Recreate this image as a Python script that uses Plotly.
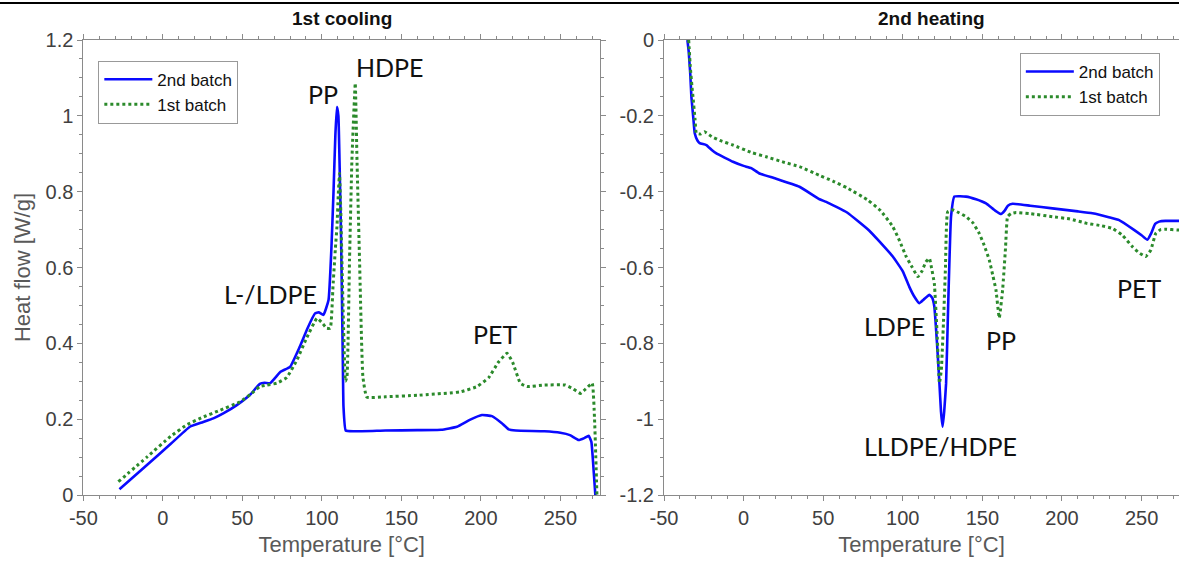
import plotly.graph_objects as go

# ---------------- data ----------------
# 1st cooling, 2nd batch (blue)
cool_b2_T = [-27.3, -10, 5, 17, 25, 31.8, 38, 46.5, 55, 61, 64, 67.5, 74, 80, 86, 91, 95.7, 98, 101,
             104.2, 106, 107.3, 108.5, 109.5, 110.4, 111.1, 112, 112.6, 113.2, 113.6, 115, 120, 140,
             160, 175, 185, 193, 200.7, 207, 213, 217.5, 222, 240, 250, 256, 261.5, 265, 267.8,
             269.5, 271, 272]
cool_b2_V = [0.015, 0.079, 0.135, 0.18, 0.192, 0.202, 0.215, 0.237, 0.265, 0.293, 0.296, 0.295, 0.325,
             0.338, 0.39, 0.44, 0.479, 0.482, 0.475, 0.514, 0.65, 0.796, 0.95, 1.024, 1.0, 0.883, 0.7,
             0.532, 0.35, 0.233, 0.17, 0.168, 0.17, 0.171, 0.172, 0.18, 0.198, 0.211, 0.208, 0.19,
             0.173, 0.17, 0.168, 0.164, 0.158, 0.145, 0.15, 0.156, 0.14, 0.06, 0.0]

# 1st cooling, 1st batch (green)
cool_b1_T = [-28, -10, 5, 15, 25, 35, 48.6, 55, 61, 65.4, 71.7, 78, 84.3, 90, 96.9, 100, 103, 105.3,
             107, 108.5, 109.5, 110.3, 111.1, 111.9, 112.6, 113.6, 114.8, 115.8, 117.4, 118.9, 121,
             122.1, 123.7, 125.8, 128.3, 140, 160, 187, 197.6, 205, 211, 216.5, 220, 224.8, 229, 240,
             253, 258, 262.6, 266, 270, 271.5, 273]
cool_b1_V = [0.035, 0.1, 0.155, 0.185, 0.205, 0.222, 0.246, 0.265, 0.286, 0.29, 0.295, 0.31, 0.356, 0.41,
             0.466, 0.455, 0.44, 0.44, 0.55, 0.65, 0.708, 0.79, 0.848, 0.75, 0.62, 0.45, 0.3, 0.312,
             0.62, 0.883, 1.086, 0.883, 0.62, 0.312, 0.258, 0.259, 0.263, 0.272, 0.286, 0.31, 0.35,
             0.374, 0.35, 0.295, 0.286, 0.29, 0.29, 0.28, 0.268, 0.28, 0.295, 0.2, 0.0]

# 2nd heating, 2nd batch (blue)
heat_b2_T = [-35.3, -34.5, -33.5, -32.8, -31.5, -30.7, -29, -27.6, -23.4, -20, -17.1, -12, -6.7, 0,
             4.8, 10, 20, 35.1, 47.7, 51.9, 65, 79, 85, 93.7, 100, 104.1, 107, 110.4, 113, 116.7,
             118.5, 119.8, 121.5, 123, 124, 125, 126, 127.2, 128.5, 130.3, 132.4, 139.7, 146, 152.3,
             158, 161.7, 164, 166, 169, 180, 194, 210, 219.1, 230, 235.9, 245, 250, 253.6, 256,
             258.5, 261, 265, 272.5, 275]
heat_b2_V = [0.0, -0.03, -0.09, -0.15, -0.21, -0.246, -0.265, -0.272, -0.277, -0.29, -0.299, -0.31,
             -0.321, -0.332, -0.338, -0.352, -0.365, -0.387, -0.42, -0.427, -0.455, -0.503, -0.53,
             -0.571, -0.61, -0.651, -0.675, -0.694, -0.685, -0.672, -0.68, -0.703, -0.8, -0.905,
             -0.98, -1.02, -0.98, -0.905, -0.7, -0.466, -0.413, -0.413, -0.42, -0.431, -0.45, -0.459,
             -0.45, -0.437, -0.432, -0.437, -0.444, -0.452, -0.457, -0.468, -0.475, -0.5, -0.515,
             -0.527, -0.51, -0.485, -0.479, -0.477, -0.477, -0.477]

# 2nd heating, 1st batch (green)
heat_b1_T = [-34.5, -33.5, -32.5, -31.8, -30.5, -29.7, -27, -24.5, -20, -15, -6.7, 5, 14.2, 25, 35.1,
             47.7, 56, 65, 78, 86, 93.7, 98, 102.1, 106, 109.4, 112, 114.5, 116.7, 118, 119.8, 121.5,
             123, 124.2, 125.5, 126.8, 128.2, 131.3, 135, 139.7, 144, 148, 151, 154.3, 156.5, 158.5,
             160.6, 162.7, 164.5, 165.8, 168, 171.1, 180, 194, 205, 215, 225, 231.7, 238, 244.2, 248,
             252.6, 255.8, 258.9, 262, 265.2, 272.4, 275]
heat_b1_V = [0.0, -0.07, -0.12, -0.15, -0.21, -0.246, -0.248, -0.242, -0.255, -0.265, -0.277, -0.297,
             -0.308, -0.322, -0.334, -0.357, -0.372, -0.39, -0.422, -0.45, -0.492, -0.53, -0.571,
             -0.6, -0.624, -0.61, -0.585, -0.576, -0.6, -0.642, -0.77, -0.905, -0.87, -0.75, -0.6,
             -0.453, -0.448, -0.455, -0.466, -0.482, -0.51, -0.54, -0.58, -0.62, -0.659, -0.733,
             -0.659, -0.55, -0.466, -0.458, -0.455, -0.458, -0.466, -0.472, -0.483, -0.49, -0.497,
             -0.515, -0.545, -0.56, -0.571, -0.554, -0.51, -0.5, -0.499, -0.501, -0.501]

series_names = ["2nd batch", "1st batch"]
panel_titles = ["1st cooling", "2nd heating"]
x_title = "Temperature [°C]"
y_title = "Heat flow [W/g]"

x_tick_vals = [-50, 0, 50, 100, 150, 200, 250]
x_tick_text = ["-50", "0", "50", "100", "150", "200", "250"]
y1_tick_vals = [0, 0.2, 0.4, 0.6, 0.8, 1.0, 1.2]
y1_tick_text = ["0", "0.2", "0.4", "0.6", "0.8", "1", "1.2"]
y2_tick_vals = [0, -0.2, -0.4, -0.6, -0.8, -1.0, -1.2]
y2_tick_text = ["0", "-0.2", "-0.4", "-0.6", "-0.8", "-1", "-1.2"]

cool_labels = ["HDPE", "PP", "L-/LDPE", "PET"]
cool_label_T = [143, 100.7, 67.5, 209]
cool_label_V = [1.129, 1.057, 0.53, 0.425]
heat_labels = ["LDPE", "PP", "LLDPE/HDPE", "PET"]
heat_label_T = [94.7, 161.9, 123.6, 248.4]
heat_label_V = [-0.754, -0.791, -1.071, -0.654]

# ---------------- styling ----------------
BLUE = "#0a0aff"
GREEN = "#2b8a2b"
AX = "#8a8a8a"
TICKFONT = dict(family="Liberation Sans, Arial", size=20, color="#404040")
TITLEFONT = dict(family="Liberation Sans, Arial", size=22, color="#595959")
ANNFONT = dict(family="Lato, Open Sans, sans-serif", size=25, color="#111111")
LINE_SHAPE = "spline"
SMOOTH = 0.35

fig = go.Figure()

fig.add_trace(go.Scatter(x=cool_b2_T, y=cool_b2_V, mode="lines", name=series_names[0],
                         line=dict(color=BLUE, width=2.6, shape=LINE_SHAPE, smoothing=SMOOTH),
                         xaxis="x", yaxis="y", legend="legend"))
fig.add_trace(go.Scatter(x=cool_b1_T, y=cool_b1_V, mode="lines", name=series_names[1],
                         line=dict(color=GREEN, width=3, dash="dot", shape=LINE_SHAPE, smoothing=SMOOTH),
                         xaxis="x", yaxis="y", legend="legend"))
fig.add_trace(go.Scatter(x=heat_b2_T, y=heat_b2_V, mode="lines", name=series_names[0],
                         line=dict(color=BLUE, width=2.6, shape=LINE_SHAPE, smoothing=SMOOTH),
                         xaxis="x2", yaxis="y2", legend="legend2"))
fig.add_trace(go.Scatter(x=heat_b1_T, y=heat_b1_V, mode="lines", name=series_names[1],
                         line=dict(color=GREEN, width=3, dash="dot", shape=LINE_SHAPE, smoothing=SMOOTH),
                         xaxis="x2", yaxis="y2", legend="legend2"))

def xaxis_cfg(domain, anchor, rng):
    return dict(domain=domain, anchor=anchor, range=rng, tickmode="array", tickvals=x_tick_vals,
                ticktext=x_tick_text, showline=True, linecolor=AX, linewidth=1, mirror="ticks",
                ticks="outside", ticklen=5, tickcolor=AX, showgrid=False, zeroline=False,
                automargin=False,
                tickfont=TICKFONT, title=dict(text=x_title, font=TITLEFONT, standoff=8),
                minor=dict(dtick=10, tick0=0, ticks="outside", ticklen=3, tickcolor=AX, showgrid=False))

def yaxis_cfg(anchor, rng, vals, text, title=None):
    d = dict(anchor=anchor, range=rng, tickmode="array", tickvals=vals, ticktext=text,
             showline=True, linecolor=AX, linewidth=1, mirror="ticks", ticks="outside", ticklen=5,
             tickcolor=AX, showgrid=False, zeroline=False, tickfont=TICKFONT, domain=[0, 1],
             automargin=False,
             minor=dict(dtick=0.05, tick0=0, ticks="outside", ticklen=3, tickcolor=AX, showgrid=False))
    if title:
        d["title"] = dict(text=title, font=TITLEFONT, standoff=8)
    return d

annotations = []
for i, t in enumerate(panel_titles):
    annotations.append(dict(text="<b>%s</b>" % t, xref="x%s domain" % ("" if i == 0 else "2"),
                            yref="paper", x=0.5 if i == 0 else 0.52, y=1.0, yshift=9, xanchor="center",
                            yanchor="bottom", showarrow=False,
                            font=dict(family="Liberation Sans, Arial", size=19, color="#111111")))
for lab, tx, vy in zip(cool_labels, cool_label_T, cool_label_V):
    annotations.append(dict(text=lab, x=tx, y=vy, xref="x", yref="y", showarrow=False, font=ANNFONT))
for lab, tx, vy in zip(heat_labels, heat_label_T, heat_label_V):
    annotations.append(dict(text=lab, x=tx, y=vy, xref="x2", yref="y2", showarrow=False, font=ANNFONT))

LEGFONT = dict(family="Liberation Sans, Arial", size=17, color="#111111")
fig.update_layout(
    width=1179, height=563,
    margin=dict(l=0, r=0, t=40, b=68, autoexpand=False),
    paper_bgcolor="white", plot_bgcolor="white",
    xaxis=xaxis_cfg([0.0707, 0.509], "y", [-50, 275]),
    yaxis=yaxis_cfg("x", [0, 1.2], y1_tick_vals, y1_tick_text, y_title),
    xaxis2=xaxis_cfg([0.5632, 1.0], "y2", [-50, 273.5]),
    yaxis2=yaxis_cfg("x2", [-1.2, 0], y2_tick_vals, y2_tick_text),
    legend=dict(x=0.0834, y=0.9545, xanchor="left", yanchor="top", bgcolor="white",
                bordercolor="#999999", borderwidth=1, font=LEGFONT, tracegroupgap=0,
                itemwidth=48),
    legend2=dict(x=0.865, y=0.9714, xanchor="left", yanchor="top", bgcolor="white",
                 bordercolor="#999999", borderwidth=1, font=LEGFONT, tracegroupgap=0,
                 itemwidth=48),
    annotations=annotations,
    shapes=[dict(type="line", xref="paper", yref="paper", x0=0, x1=1, y0=1.0813, y1=1.0813,
                 line=dict(color="black", width=2))],
    showlegend=True,
)

fig.write_html("out.html", config={"displayModeBar": False},
               post_script="document.body.style.margin='0';")
